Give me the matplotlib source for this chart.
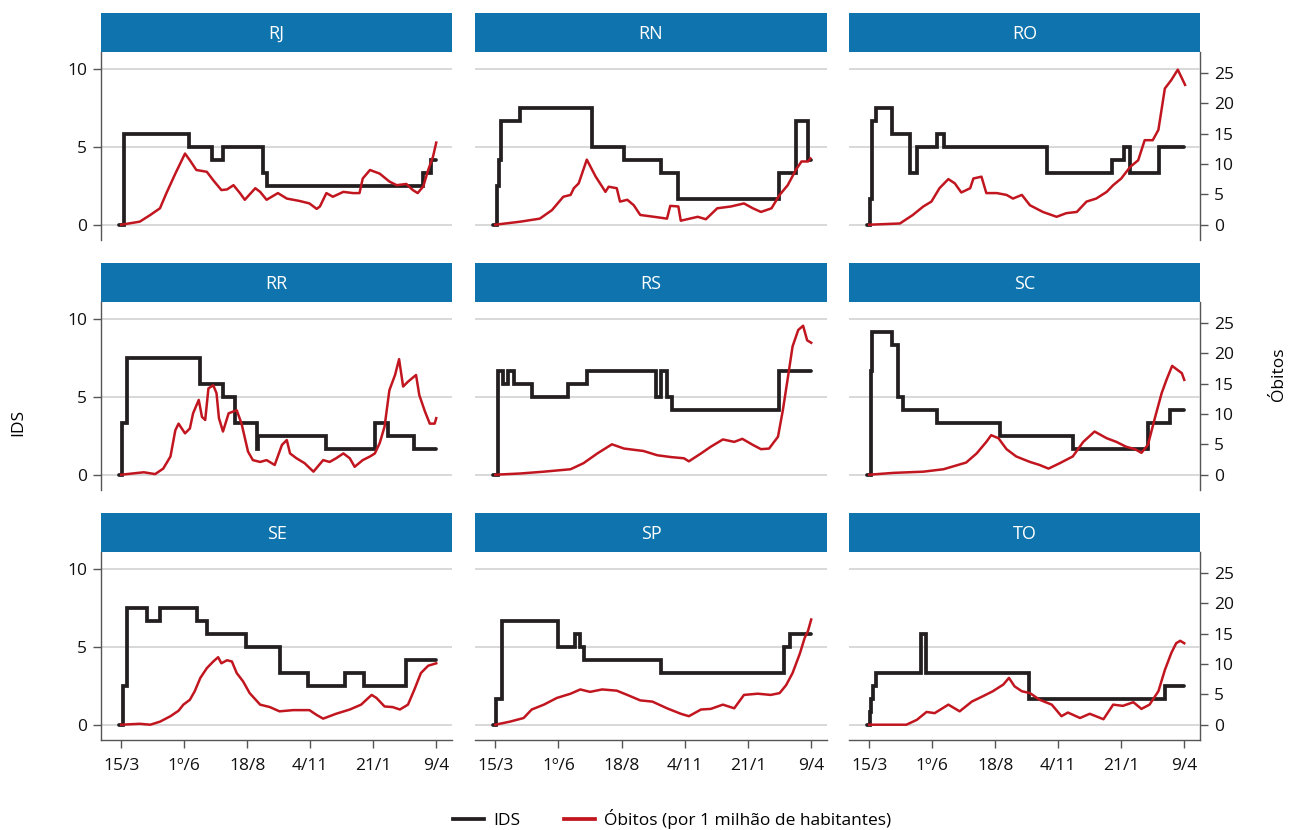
import matplotlib
matplotlib.use("Agg")
import matplotlib.pyplot as plt
from matplotlib.lines import Line2D

plt.rcParams['font.family'] = ['Open Sans', 'DejaVu Sans']

# ---------------- data ----------------
states = ["RJ", "RN", "RO", "RR", "RS", "SC", "SE", "SP", "TO"]
tick_days = [0, 78, 156, 234, 312, 390]
tick_labels = ["15/3", "1º/6", "18/8", "4/11", "21/1", "9/4"]
END_DAY = 390

# IDS: change points (day, value) -> step function
ids_RJ_d = [-3, 3, 84, 112, 126, 176, 181, 373, 384]
ids_RJ_v = [0, 5.83, 5.0, 4.17, 5.0, 3.33, 2.5, 3.33, 4.17]
ids_RN_d = [-3, 2, 5, 7, 30, 119, 159, 204, 226, 350, 371, 386]
ids_RN_v = [0, 2.5, 4.17, 6.67, 7.5, 5.0, 4.17, 3.33, 1.67, 3.33, 6.67, 4.17]
ids_RO_d = [-3, 1, 3, 8, 28, 50, 59, 84, 92, 220, 301, 316, 323, 359]
ids_RO_v = [0, 1.67, 6.67, 7.5, 5.83, 3.33, 5.0, 5.83, 5.0, 3.33, 4.17, 5.0, 3.33, 5.0]
ids_RR_d = [-3, 1, 7, 98, 126, 141, 168, 169, 253, 314, 330, 363]
ids_RR_v = [0, 3.33, 7.5, 5.83, 5.0, 3.33, 1.67, 2.5, 1.67, 3.33, 2.5, 1.67]
ids_RS_d = [-3, 4, 10, 16, 23, 45, 90, 113, 198, 204, 212, 218, 350]
ids_RS_v = [0, 6.67, 5.83, 6.67, 5.83, 5.0, 5.83, 6.67, 5.0, 6.67, 5.0, 4.17, 6.67]
ids_SC_d = [-3, 2, 4, 28, 36, 42, 84, 162, 252, 345, 372]
ids_SC_v = [0, 6.67, 9.17, 8.33, 5.0, 4.17, 3.33, 2.5, 1.67, 3.33, 4.17]
ids_SE_d = [-3, 2, 7, 32, 48, 94, 106, 155, 196, 231, 277, 300, 353]
ids_SE_v = [0, 2.5, 7.5, 6.67, 7.5, 6.67, 5.83, 5.0, 3.33, 2.5, 3.33, 2.5, 4.17]
ids_SP_d = [-3, 1, 8, 77, 99, 105, 109, 205, 357, 364]
ids_SP_v = [0, 1.67, 6.67, 5.0, 5.83, 5.0, 4.17, 3.33, 5.0, 5.83]
ids_TO_d = [-3, 1, 2, 5, 8, 64, 70, 198, 366]
ids_TO_v = [0, 0.83, 1.67, 2.5, 3.33, 5.83, 3.33, 1.67, 2.5]

# Deaths per 1 million inhabitants
ob_RJ_d = [0, 23, 36, 48, 56, 67, 79, 85, 93, 106, 114, 124, 131, 139, 147, 153, 166, 172, 180, 194,
           205, 221, 233, 242, 246, 254, 262, 275, 287, 295, 299, 308, 320, 332, 341, 353, 361, 367,
           374, 380, 386, 390]
ob_RJ_v = [0, 0.5, 1.6, 2.7, 5.2, 8.4, 11.7, 10.6, 9.0, 8.7, 7.3, 5.7, 5.8, 6.5, 5.2, 4.1, 6.0, 5.4, 4.1, 5.2,
           4.3, 3.9, 3.5, 2.6, 3.0, 5.2, 4.6, 5.4, 5.2, 5.2, 7.6, 9.0, 8.4, 7.1, 6.5, 6.7, 5.7, 5.2,
           6.3, 9.0, 11.2, 13.5]
ob_RN_d = [0, 31, 55, 70, 84, 93, 97, 103, 113, 124, 132, 136, 140, 150, 154, 163, 171, 179, 196, 212,
           216, 226, 229, 250, 260, 274, 291, 307, 318, 328, 341, 351, 361, 371, 378, 386, 389]
ob_RN_v = [0, 0.5, 1.0, 2.4, 4.6, 4.9, 6.0, 6.8, 10.7, 7.9, 6.25, 5.4, 6.25, 6.0, 3.8, 4.1, 3.2, 1.6, 1.3, 1.0,
           3.1, 3.0, 0.66, 1.3, 0.9, 2.7, 3.0, 3.5, 2.7, 2.1, 2.7, 4.9, 6.5, 9.0, 10.4, 10.4, 10.9]
ob_RO_d = [0, 38, 54, 67, 77, 87, 98, 106, 114, 125, 129, 139, 145, 158, 170, 178, 189, 199, 215, 232,
           244, 257, 269, 281, 294, 302, 312, 323, 333, 341, 351, 358, 366, 374, 382, 391]
ob_RO_v = [0, 0.2, 1.6, 3.0, 3.8, 6.0, 7.5, 6.8, 5.3, 6.0, 7.6, 7.9, 5.2, 5.2, 4.9, 4.3, 4.9, 3.2, 2.1, 1.3,
           1.9, 2.1, 3.8, 4.3, 5.4, 6.5, 7.6, 9.5, 10.6, 13.9, 13.9, 15.6, 22.4, 23.8, 25.5, 23.0]
ob_RR_d = [0, 28, 42, 52, 61, 67, 71, 79, 85, 89, 96, 100, 104, 108, 114, 118, 121, 126, 133, 139,
           143, 149, 157, 163, 172, 180, 190, 199, 205, 209, 217, 227, 238, 250, 258, 266, 275, 283,
           289, 299, 308, 314, 320, 326, 332, 339, 344, 349, 355, 365, 369, 376, 382, 388, 390]
ob_RR_v = [0, 0.4, 0.1, 1.0, 3.0, 7.3, 8.4, 6.8, 7.6, 10.1, 12.3, 9.5, 9.0, 14.2, 14.7, 13.4, 9.3, 7.1, 10.1, 10.4,
           10.6, 8.4, 3.8, 2.4, 2.1, 2.4, 1.6, 4.9, 5.7, 3.5, 2.7, 1.9, 0.5, 2.4, 2.1, 2.7, 3.5, 2.7,
           1.3, 2.4, 3.0, 3.5, 5.2, 7.9, 13.9, 16.4, 19.0, 14.5, 15.3, 16.4, 13.1, 10.4, 8.4, 8.4, 9.3]
ob_RS_d = [0, 31, 60, 93, 109, 126, 144, 159, 183, 200, 217, 233, 239, 254, 266, 281, 295, 305, 318, 328,
           338, 349, 355, 361, 367, 374, 380, 385, 390]
ob_RS_v = [0, 0.2, 0.5, 0.9, 1.9, 3.5, 5.0, 4.3, 3.9, 3.2, 2.9, 2.7, 2.2, 3.5, 4.6, 5.8, 5.4, 5.9, 4.9, 4.2,
           4.3, 6.25, 10.6, 15.8, 21.1, 23.8, 24.5, 22.1, 21.7]
ob_SC_d = [0, 30, 67, 92, 120, 133, 145, 151, 160, 170, 182, 199, 211, 222, 236, 252, 265, 279, 294, 306,
           318, 329, 337, 345, 354, 362, 368, 375, 382, 387, 390]
ob_SC_v = [0, 0.3, 0.5, 0.9, 2.0, 3.5, 5.4, 6.5, 6.0, 4.2, 3.0, 2.1, 1.6, 1.0, 1.9, 3.0, 5.4, 7.1, 6.0, 5.4,
           4.6, 4.2, 3.6, 4.9, 9.5, 13.4, 15.6, 17.9, 17.2, 16.7, 15.6]
ob_SE_d = [0, 23, 36, 48, 61, 71, 77, 85, 91, 98, 106, 114, 120, 124, 131, 137, 143, 151, 159, 172,
           184, 196, 213, 233, 242, 250, 266, 283, 297, 310, 316, 326, 336, 345, 355, 363, 371, 380, 390]
ob_SE_v = [0, 0.15, 0, 0.5, 1.4, 2.3, 3.3, 4.1, 5.5, 7.7, 9.3, 10.4, 11.1, 10.1, 10.6, 10.4, 8.5, 7.1, 5.2, 3.3,
           2.9, 2.2, 2.4, 2.4, 1.6, 1.0, 1.8, 2.5, 3.3, 4.9, 4.4, 3.0, 2.9, 2.5, 3.3, 5.8, 8.5, 9.7, 10.1]
ob_SP_d = [0, 18, 35, 45, 60, 76, 93, 105, 117, 132, 150, 163, 179, 194, 212, 229, 239, 254, 266, 281,
           295, 307, 324, 340, 351, 359, 367, 376, 382, 386, 390]
ob_SP_v = [0, 0.5, 1.1, 2.5, 3.3, 4.4, 5.1, 5.8, 5.4, 5.8, 5.6, 4.9, 4.0, 3.8, 2.7, 1.8, 1.4, 2.5, 2.6, 3.3,
           2.7, 4.9, 5.1, 4.9, 5.2, 6.5, 8.5, 11.7, 14.3, 15.4, 17.3]
ob_TO_d = [0, 26, 46, 59, 71, 81, 98, 112, 127, 141, 153, 166, 173, 180, 189, 199, 211, 226, 238, 246,
           261, 273, 290, 302, 314, 327, 337, 347, 358, 366, 374, 380, 385, 390]
ob_TO_v = [0, 0, 0, 0.8, 2.1, 1.9, 3.3, 2.2, 3.8, 4.7, 5.5, 6.6, 7.7, 6.3, 5.5, 5.2, 4.1, 3.3, 1.4, 2.0,
           1.1, 1.8, 0.9, 3.3, 3.1, 3.7, 2.6, 3.3, 5.5, 9.0, 11.8, 13.4, 13.8, 13.4]

ids_data = {
    "RJ": (ids_RJ_d, ids_RJ_v), "RN": (ids_RN_d, ids_RN_v), "RO": (ids_RO_d, ids_RO_v),
    "RR": (ids_RR_d, ids_RR_v), "RS": (ids_RS_d, ids_RS_v), "SC": (ids_SC_d, ids_SC_v),
    "SE": (ids_SE_d, ids_SE_v), "SP": (ids_SP_d, ids_SP_v), "TO": (ids_TO_d, ids_TO_v),
}
ob_data = {
    "RJ": (ob_RJ_d, ob_RJ_v), "RN": (ob_RN_d, ob_RN_v), "RO": (ob_RO_d, ob_RO_v),
    "RR": (ob_RR_d, ob_RR_v), "RS": (ob_RS_d, ob_RS_v), "SC": (ob_SC_d, ob_SC_v),
    "SE": (ob_SE_d, ob_SE_v), "SP": (ob_SP_d, ob_SP_v), "TO": (ob_TO_d, ob_TO_v),
}

# ---------------- style ----------------
W, H = 1290, 830
HEADER_BLUE = "#0f74ad"
BLACK = "#231f20"
RED = "#c1161f"
GRID = "#d2d2d2"
SPINE = "#555555"
FS = 12.5

col_x = [(101, 452), (475, 827), (849, 1200)]
row_y = [(52, 240), (302, 490), (552, 740)]
HEADER_H = 39

ylim_l = (-0.98, 11.07)
ratio = 46.8 / 18.24
ylim_r = (ylim_l[0] * ratio, ylim_l[1] * ratio)
xlim = (-25, 409.5)

fig = plt.figure(figsize=(W / 100, H / 100), dpi=100)


def frac_rect(x0, x1, ytop, ybot):
    return [x0 / W, 1 - ybot / H, (x1 - x0) / W, (ybot - ytop) / H]


for i, st in enumerate(states):
    r, c = divmod(i, 3)
    x0, x1 = col_x[c]
    yt, yb = row_y[r]

    # header strip
    hax = fig.add_axes(frac_rect(x0, x1, yt - HEADER_H, yt))
    hax.set_facecolor(HEADER_BLUE)
    hax.set_xticks([])
    hax.set_yticks([])
    for s in hax.spines.values():
        s.set_visible(False)
    hax.text(0.5, 0.47, st, color="white", fontsize=13, ha="center", va="center",
             transform=hax.transAxes)

    ax = fig.add_axes(frac_rect(x0, x1, yt, yb))
    ax2 = ax.twinx()
    ax.set_zorder(2)
    ax2.set_zorder(1)
    ax.patch.set_visible(False)

    ax.set_xlim(*xlim)
    ax.set_ylim(*ylim_l)
    ax2.set_ylim(*ylim_r)

    # grid
    ax.set_yticks([0, 5, 10])
    ax.yaxis.grid(True, color=GRID, linewidth=1.2)
    ax.set_axisbelow(True)

    # IDS step line
    d, v = ids_data[st]
    dd = list(d) + [END_DAY]
    vv = list(v) + [v[-1]]
    ax.plot(dd, vv, drawstyle="steps-post", color=BLACK, lw=2.7,
            solid_joinstyle="miter", solid_capstyle="round", zorder=3)

    # deaths line (on the left axes, rescaled to the right-axis units)
    od, ov = ob_data[st]
    ax.plot(od, [y / ratio for y in ov], color=RED, lw=1.8, zorder=4)

    for s in ["top", "right", "left", "bottom"]:
        ax.spines[s].set_visible(False)
        ax2.spines[s].set_visible(False)

    ax.tick_params(axis="both", colors=SPINE, labelcolor="#111111", labelsize=FS,
                   length=6, width=1, direction="out", pad=4)
    ax.tick_params(axis="x", pad=7)
    ax2.tick_params(axis="both", colors=SPINE, labelcolor="#111111", labelsize=FS,
                    length=6, width=1, direction="out", pad=4)

    # left axis
    if c == 0:
        ax.spines["left"].set_visible(True)
        ax.spines["left"].set_color(SPINE)
        ax.spines["left"].set_linewidth(1)
    else:
        ax.tick_params(axis="y", left=False, labelleft=False)

    # right axis
    ax2.set_yticks([0, 5, 10, 15, 20, 25])
    if c == 2:
        ax2.spines["right"].set_visible(True)
        ax2.spines["right"].set_color(SPINE)
        ax2.spines["right"].set_linewidth(1)
    else:
        ax2.tick_params(axis="y", right=False, labelright=False)

    # x axis
    ax.set_xticks(tick_days)
    if r == 2:
        ax.set_xticklabels(tick_labels)
        ax.spines["bottom"].set_visible(True)
        ax.spines["bottom"].set_color(SPINE)
        ax.spines["bottom"].set_linewidth(1)
    else:
        ax.tick_params(axis="x", bottom=False, labelbottom=False)

# axis titles
fig.text(18 / W, 1 - 422 / H, "IDS", rotation=90, ha="center", va="center", fontsize=FS)
fig.text(1279 / W, 1 - 374 / H, "Óbitos", rotation=90, ha="center", va="center", fontsize=FS)

# legend
handles = [Line2D([], [], color=BLACK, lw=2.7),
           Line2D([], [], color=RED, lw=2.7)]
fig.legend(handles, ["IDS", "Óbitos (por 1 milhão de habitantes)"], loc="center",
           bbox_to_anchor=(672 / W, 1 - 819 / H), ncol=2, frameon=False, fontsize=FS,
           handlelength=1.8, columnspacing=2.5, handletextpad=0.5)

fig.savefig("out.png", dpi=100)
